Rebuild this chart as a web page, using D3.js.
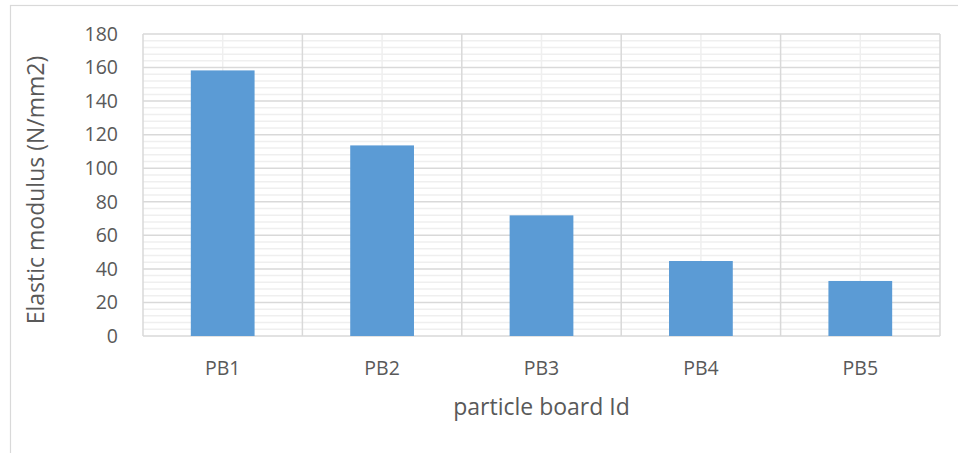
<!DOCTYPE html>
<html><head><meta charset="utf-8">
<script src="https://cdn.jsdelivr.net/npm/d3@7"></script>
<style>body{margin:0;background:#fff;}svg{display:block;font-family:"Open Sans",Lato,sans-serif;}</style>
</head><body>
<svg id="c" width="958" height="453"></svg>
<script>
const categories = ["PB1","PB2","PB3","PB4","PB5"];
const values = [158.3, 113.6, 71.9, 44.7, 32.8];
const yTicks = [0,20,40,60,80,100,120,140,160,180];
const yTitle = "Elastic modulus (N/mm2)";
const xTitle = "particle board Id";

const FONT = "'Open Sans',Lato,sans-serif";
const svg = d3.select("#c");
const m = {l:143, r:940, t:34, b:336};
svg.append("rect").attr("x",10.5).attr("y",5.5).attr("width",1000).attr("height",1000)
  .attr("fill","none").attr("stroke","#d9d9d9").attr("stroke-width",1.2);

const x = d3.scaleBand().domain(categories).range([m.l,m.r]).paddingInner(0).paddingOuter(0);
const y = d3.scaleLinear().domain([0,180]).range([m.b,m.t]);

const g = svg.append("g");
const minor = d3.range(0,181,4).filter(v=>v%20!==0);
g.selectAll(".mh").data(minor).join("line").attr("x1",m.l).attr("x2",m.r)
  .attr("y1",d=>y(d)).attr("y2",d=>y(d)).attr("stroke","#efefef").attr("stroke-width",1.5);
g.selectAll(".mv").data(categories).join("line")
  .attr("x1",d=>x(d)+x.bandwidth()/2).attr("x2",d=>x(d)+x.bandwidth()/2)
  .attr("y1",m.t).attr("y2",m.b).attr("stroke","#efefef").attr("stroke-width",1.5);
g.selectAll(".Mh").data(yTicks).join("line").attr("x1",m.l).attr("x2",m.r)
  .attr("y1",d=>y(d)).attr("y2",d=>y(d)).attr("stroke","#d9d9d9").attr("stroke-width",1.5);
const bounds = categories.map(c=>x(c)).concat([m.r]);
g.selectAll(".Mv").data(bounds).join("line").attr("x1",d=>d).attr("x2",d=>d)
  .attr("y1",m.t).attr("y2",m.b).attr("stroke","#d9d9d9").attr("stroke-width",1.5);

const bw = x.bandwidth()*0.4;
svg.selectAll(".bar").data(values).join("rect")
  .attr("x",(d,i)=>x(categories[i])+x.bandwidth()/2-bw/2)
  .attr("y",d=>y(d)).attr("width",bw).attr("height",d=>y(0)-y(d))
  .attr("fill","#5b9bd5");

const ya = svg.append("g").attr("transform",`translate(${m.l},0)`)
  .call(d3.axisLeft(y).tickValues(yTicks).tickSize(0).tickPadding(25));
ya.select(".domain").remove();
ya.selectAll("text").attr("font-size",19.5).attr("fill","#595959").attr("font-family",FONT);

const xa = svg.append("g").attr("transform",`translate(0,${m.b})`)
  .call(d3.axisBottom(x).tickSize(0).tickPadding(25));
xa.select(".domain").remove();
xa.selectAll("text").attr("font-size",19.5).attr("fill","#595959").attr("font-family",FONT);

svg.append("text").attr("x",(m.l+m.r)/2).attr("y",415).attr("text-anchor","middle")
  .attr("font-family",FONT).attr("font-size",23).attr("fill","#595959").text(xTitle);
svg.append("text").attr("transform",`translate(44,${(m.t+m.b)/2 + 5}) rotate(-90)`)
  .attr("text-anchor","middle").attr("font-family",FONT).attr("font-size",23).attr("fill","#595959").text(yTitle);
</script>
</body></html>
